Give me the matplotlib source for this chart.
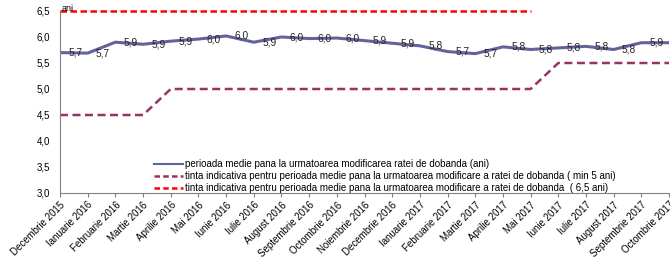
import numpy as np
import matplotlib
matplotlib.use('Agg')
import matplotlib.pyplot as plt
from matplotlib.lines import Line2D

plt.rcParams['font.family'] = ['Liberation Sans', 'DejaVu Sans']

# Luni (categorii)
luni = ['Decembrie 2015', 'Ianuarie 2016', 'Februarie 2016', 'Martie 2016', 'Aprilie 2016',
        'Mai 2016', 'Iunie 2016', 'Iulie 2016', 'August 2016', 'Septembrie 2016',
        'Octombrie 2016', 'Noiembrie 2016', 'Decembrie 2016', 'Ianuarie 2017',
        'Februarie 2017', 'Martie 2017', 'Aprilie 2017', 'Mai 2017', 'Iunie 2017',
        'Iulie 2017', 'August 2017', 'Septembrie 2017', 'Octombrie 2017']

# Perioada medie (ani)
perioada = [5.70, 5.69, 5.90, 5.86, 5.92, 5.96, 6.02, 5.90, 6.00, 5.97, 5.98, 5.93,
            5.88, 5.83, 5.72, 5.68, 5.81, 5.76, 5.79, 5.82, 5.76, 5.89, 5.89]

# Tinta minima
tinta_min = [4.5, 4.5, 4.5, 4.5, 5.0, 5.0, 5.0, 5.0, 5.0, 5.0, 5.0, 5.0,
             5.0, 5.0, 5.0, 5.0, 5.0, 5.0, 5.5, 5.5, 5.5, 5.5, 5.5]

# Tinta 6,5 ani (pana in mai 2017)
tinta_65 = [6.5] * 18 + [np.nan] * 5

etichete = ['perioada medie pana la urmatoarea modificarea ratei de dobanda (ani)',
            'tinta indicativa pentru perioada medie pana la urmatoarea modificare a ratei de dobanda ( min 5 ani)',
            'tinta indicativa pentru perioada medie pana la urmatoarea modificare a ratei de dobanda  ( 6,5 ani)']

x = np.arange(len(luni))

fig = plt.figure(figsize=(6.7, 2.61), dpi=100)
ax = fig.add_axes([60 / 670, 68 / 261, 609 / 670, 182 / 261])

ax.plot(x, perioada, color='#63639c', lw=2.2)
ax.plot(x, tinta_min, color='#993366', lw=1.8, dashes=(3.2, 1.8))
ax.plot(x, tinta_65, color='#ff0000', lw=1.8, dashes=(2.6, 1.4), clip_on=False)

# Etichete de date
for i, v in enumerate(perioada):
    ax.annotate(f'{v:.1f}'.replace('.', ','), (x[i], v), xytext=(6, 0),
                textcoords='offset points', ha='left', va='center',
                fontsize=7.3, color='#222222', annotation_clip=False)

ax.set_xlim(0, len(luni) - 1)
ax.set_ylim(3.0, 6.5)
ax.set_yticks(np.arange(3.0, 6.51, 0.5))
ax.set_yticklabels([f'{t:.1f}'.replace('.', ',') for t in np.arange(3.0, 6.51, 0.5)])
ax.set_xticks(x)
ax.set_xticklabels(luni, rotation=45, ha='right', rotation_mode='anchor')

for s in ['top', 'right']:
    ax.spines[s].set_visible(False)
for s in ['left', 'bottom']:
    ax.spines[s].set_color('#808080')
    ax.spines[s].set_linewidth(0.8)
ax.tick_params(axis='x', length=3, color='#808080', labelsize=7, pad=2)
ax.tick_params(axis='y', length=0, labelsize=7, pad=7)

ax.annotate('ani', (0, 1.0), xycoords='axes fraction', xytext=(1.5, 1.5),
            textcoords='offset points', fontsize=6.5, va='center', ha='left', zorder=10)

# Legenda (manere mai subtiri)
manere = [Line2D([], [], color='#63639c', lw=1.5),
          Line2D([], [], color='#993366', lw=1.8, dashes=(2.2, 1.3)),
          Line2D([], [], color='#ff0000', lw=1.8, dashes=(2.2, 1.3))]
ax.legend(manere, etichete, loc='upper left', bbox_to_anchor=(0.146, 0.213), frameon=False,
          fontsize=7, handlelength=3.0, handletextpad=0.2, labelspacing=0.2, borderpad=0)

fig.savefig('out.png', dpi=100)
